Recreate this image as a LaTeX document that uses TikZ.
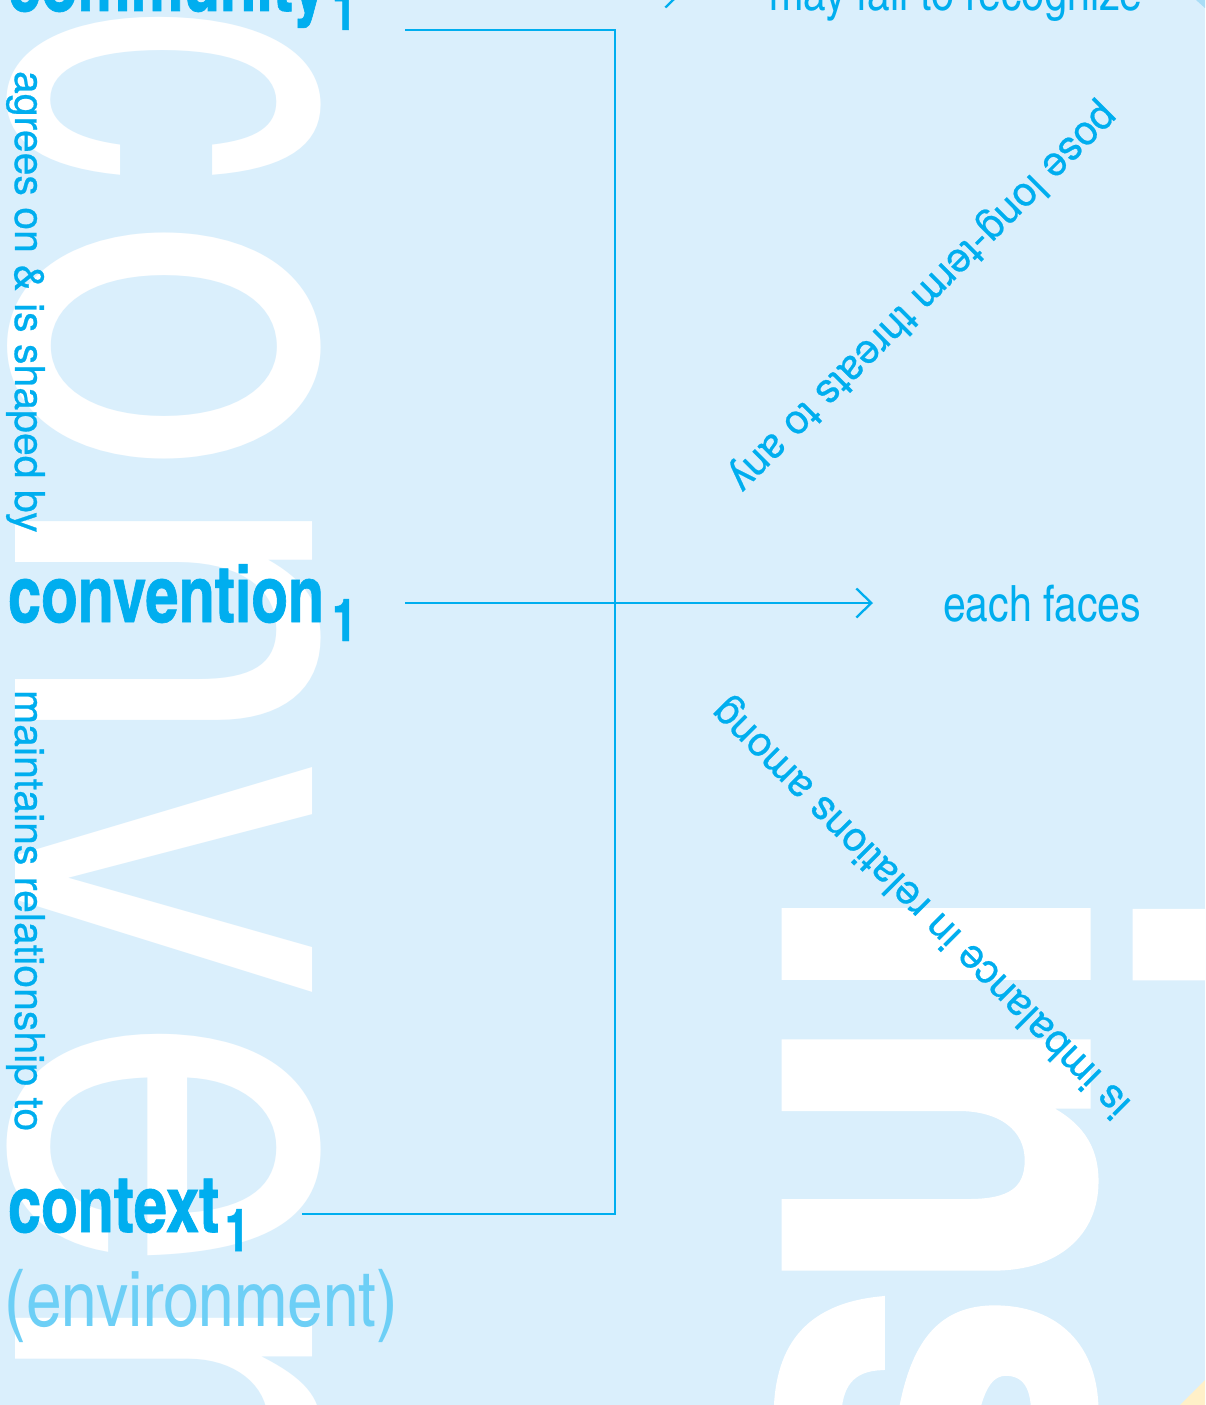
\documentclass[tikz,border=0pt]{standalone}
\usepackage{fontspec}
\usepackage{graphicx}
\setmainfont{TeX Gyre Heros}
\newfontfamily\hcn{texgyreheroscn-regular.otf}
\newfontfamily\hcnb{texgyreheroscn-bold.otf}[FakeStretch=0.92,FakeBold=0.8]
\newfontfamily\hbig{texgyreheroscn-bold.otf}[FakeBold=1.2]
\newfontfamily\hside{TeX Gyre Heros}[FakeBold=0.6]
\usetikzlibrary{arrows.meta}
\definecolor{bg}{HTML}{DAEFFC}
\definecolor{cy}{HTML}{00AEEF}
\definecolor{lcy}{HTML}{6DCFF6}
\definecolor{tri}{HTML}{A9DDF6}
\definecolor{yel}{HTML}{FFF0C8}
\newcommand\subone[1]{\hspace{#1}\raisebox{-19pt}{\fontsize{59}{62}\selectfont 1}}
\begin{document}
\begin{tikzpicture}[x=1pt,y=-1pt,inner sep=0pt,outer sep=0pt,
  big/.style={text=white,font=\hcn\fontsize{568}{600}\selectfont,rotate=-90,anchor=base},
  bigb/.style={text=white,font=\hbig\fontsize{568}{600}\selectfont,rotate=-90,anchor=base},
  term/.style={text=cy,font=\hcnb\fontsize{79}{90}\selectfont,anchor=base west},
  envlbl/.style={text=lcy,font=\hcn\fontsize{78}{88}\selectfont,anchor=base west},
  side/.style={text=cy,font=\hside\fontsize{41}{48}\selectfont,rotate=-90,anchor=base west},
  diag/.style={text=cy,font=\hside\fontsize{41}{48}\selectfont},
  tgt/.style={text=cy,font=\hcn\fontsize{50}{56}\selectfont,anchor=base west},
  conn/.style={draw=cy,line width=2.3pt},
  arr/.style={conn,-{Straight Barb[length=15pt,width=29pt]}}]
\useasboundingbox (0,0) rectangle (1205,1405);
\fill[bg] (0,0) rectangle (1205,1405);
\clip (0,0) rectangle (1205,1405);
% big background letters
\node[big] (Lc) at (16,95) {\scalebox{0.76}[1]{c}};
\node[big] (Lo) at (16,346) {o};
\node[big] (Ln) at (16,621) {n};
\node[big] (Lv) at (16,880) {v};
\node[big] (Le) at (16,1145) {e};
\node[big] (Lr) at (16,1360) {r};
\node[bigb] (Ri) at (785,944) {i};
\node[bigb] (Rn) at (785,1155) {n};
\node[bigb] (Rs) at (785,1415) {s};
% corner accents
\fill[tri] (1196,0) -- (1205,0) -- (1205,8) -- cycle;
\fill[yel] (1180,1405) -- (1205,1380) -- (1205,1405) -- cycle;
% terms
\node[term] (comm) at (8,11) {community\subone{6pt}};
\node[term] (conv) at (8,622) {convention\subone{8pt}};
\node[term] (ctx) at (8,1232) {context\subone{6pt}};
\node[envlbl] (env) at (5,1326) {(environment)};
% side labels
\node[side] (agree) at (15,71) {agrees on \& is shaped by};
\node[side] (maint) at (15,690) {maintains relationship to};
% targets
\node[tgt] (fail) at (769,11) {may fail to recognize};
\node[tgt] (faces) at (943,621) {each faces};
\node[diag,rotate=225] (pose) at (922,297) {pose long-term threats to any};
\node[diag,rotate=135] (imb) at (922,907) {is imbalance in relations among};
% connectors
\coordinate (ct) at (405,30);
\coordinate (jt) at (615,30);
\coordinate (jm) at (615,603);
\coordinate (jb) at (615,1214);
\coordinate (cb) at (302,1214);
\coordinate (cm) at (405,603);
\coordinate (tipm) at (873,603);
\coordinate (ts) at (630,-7);
\coordinate (tt) at (682,-7);
\draw[conn] (ct) -- (jt) -- (jb) -- (cb);
\draw[arr] (cm) -- (tipm);
\draw[arr] (ts) -- (tt);
\end{tikzpicture}
\end{document}
